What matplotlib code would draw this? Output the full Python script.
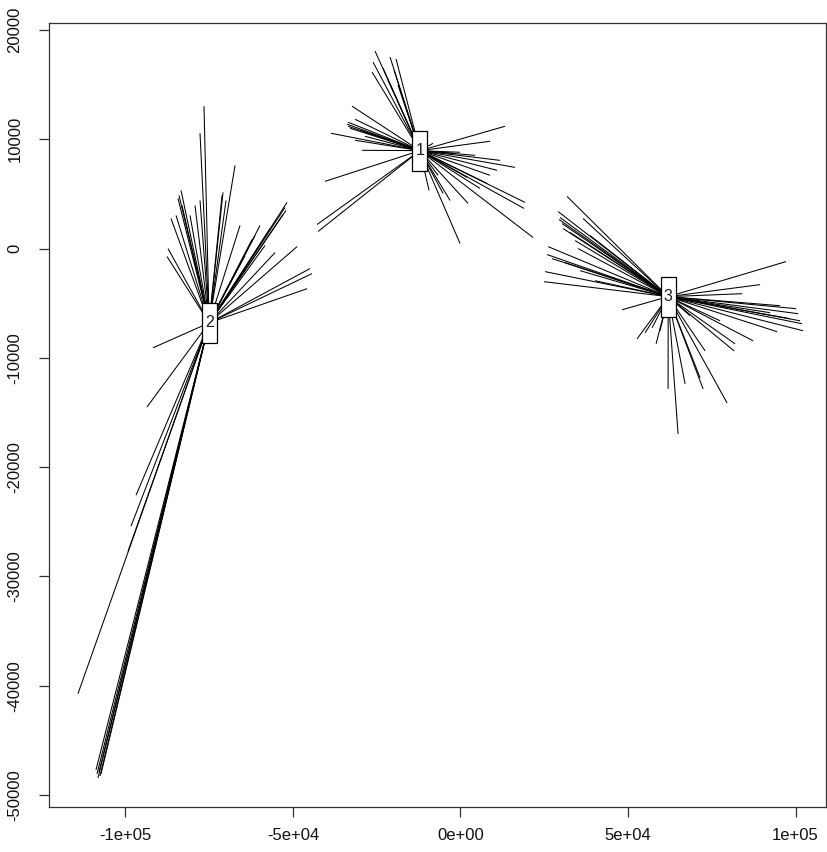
import matplotlib
matplotlib.use("Agg")
import matplotlib.pyplot as plt
from matplotlib.patches import Rectangle

# ---- data -------------------------------------------------------------
cluster_labels = ["1", "2", "3"]
center_x = [-12100, -75000, 62000]
center_y = [8960, -6800, -4400]

c1_x = [-25490, -26090, -26390, -23100, -21010, -19220, -19820, -21610, -18630,
        -32360, -31460, -33550, -33850, -33550, -32950, -29970, -38630, -29370,
        -40420, -42810, -42510, 13310, 8840, 16300, 10930, 19280, 18980, 21670,
        2270, -120, -9370, 5850, 7940, 1970, -120, -2210, -8180, -3100, -5190,
        11820, 4360, 8840, -6690, -31460, -28480]
c1_y = [18070, 17060, 16150, 16510, 17520, 17340, 16330, 15410, 14950,
        13030, 11830, 11560, 11380, 11190, 11010, 10830, 10550, 8990,
        6150, 2200, 1560, 11190, 9820, 7430, 7160, 4220, 3670, 1010,
        4130, 460, 5320, 5500, 5960, 6510, 8810, 8720, 9630, 4400, 5050,
        8070, 8530, 6700, 6700, 9910, 10270]

c2_x = [-76540, -77730, -67280, -70860, -71160, -69970, -83400, -84000, -84300,
        -83100, -86390, -84890, -87280, -87580, -51760, -52360, -52060, -52950,
        -62210, -61310, -55340, -48770, -44890, -44300, -45790, -58330, -56830,
        -59820, -65790, -64300, -80710, -79220, -77730, -91760, -93550, -96830,
        -98330, -99220, -114150, -108470, -108180, -107580, -107880, -107280,
        -108770]
c2_y = [13030, 10550, 7610, 5140, 4860, 4400, 5320, 4860, 4590,
        3940, 2750, 3030, 0, -730, 4220, 3760, 3490, 3120,
        830, 1190, -370, 180, -1830, -2290, -3670, 280, 1830,
        2110, 2110, -640, 3030, 3940, 4400, -9080, -14490, -22570,
        -25410, -27710, -40730, -48070, -48440, -48260, -47890, -48070,
        -47700]

c3_x = [31820, 29130, 29730, 29430, 30330, 30630, 36600, 35100, 26150, 25850,
        27340, 25250, 24950, 48240, 32720, 34210, 38690, 31220, 35700, 40180,
        97190, 89430, 84060, 100170, 100770, 101370, 101970, 102270, 94510,
        87340, 81970, 81670, 79580, 72420, 71520, 67040, 61970, 64950, 58390,
        52720, 77490, 98390, 95400, 92420, 73010, 68540, 59580, 55100, 57190]
c3_y = [4770, 3390, 2840, 2660, 2290, 1830, 2750, 0, 180, -550,
        -920, -2110, -3030, -5600, 1470, 730, 1190, -1280, -2020, -2940,
        -1190, -3300, -4130, -5500, -5960, -6610, -6880, -7520, -7610,
        -8440, -8720, -9360, -14130, -12840, -11830, -12380, -12840, -16970, -8720,
        -8260, -6610, -6420, -5230, -5870, -9360, -6150, -7520, -7710, -7250]

x_ticks = [-100000, -50000, 0, 50000, 100000]
x_tick_labels = ["-1e+05", "-5e+04", "0e+00", "5e+04", "1e+05"]
y_ticks = [20000, 10000, 0, -10000, -20000, -30000, -40000, -50000]
y_tick_labels = ["20000", "10000", "0", "-10000", "-20000", "-30000", "-40000", "-50000"]

# ---- figure -----------------------------------------------------------
plt.rcParams['font.family'] = ['Liberation Sans', 'DejaVu Sans']
W, H = 827, 852
fig = plt.figure(figsize=(W / 100, H / 100), dpi=100)
ax_l, ax_r, ax_t, ax_b = 49, 826, 23, 807
ax = fig.add_axes([ax_l / W, (H - ax_b) / H, (ax_r - ax_l) / W, (ax_b - ax_t) / H])

xlim = (-122800, 109100)
ylim = (-51100, 20640)
ax.set_xlim(*xlim)
ax.set_ylim(*ylim)

clusters = [(c1_x, c1_y), (c2_x, c2_y), (c3_x, c3_y)]
for (xs, ys), cx, cy in zip(clusters, center_x, center_y):
    for x, y in zip(xs, ys):
        ax.plot([cx, x], [cy, y], color='black', lw=0.75, solid_capstyle='butt')

# label boxes (size in pixels converted to data units)
dx_px = (xlim[1] - xlim[0]) / (ax_r - ax_l)
dy_px = (ylim[1] - ylim[0]) / (ax_b - ax_t)
bw, bh = 15 * dx_px, 40 * dy_px
for lab, cx, cy in zip(cluster_labels, center_x, center_y):
    ax.add_patch(Rectangle((cx - bw / 2, cy - bh / 2), bw, bh, facecolor='white',
                           edgecolor='black', lw=0.9, zorder=5))
    ax.text(cx, cy, lab, ha='center', va='center', fontsize=11.5, color='#1a1a2e', zorder=6)

ax.set_xticks(x_ticks)
ax.set_xticklabels(x_tick_labels)
ax.set_yticks(y_ticks)
ax.set_yticklabels(y_tick_labels, rotation=90, va='center')
ax.tick_params(axis='both', length=7, width=0.9, color='#333333', labelsize=12,
               labelcolor='#111111')
ax.tick_params(axis='x', pad=8)
ax.tick_params(axis='y', pad=12)
for s in ax.spines.values():
    s.set_color('#333333')
    s.set_linewidth(0.9)

fig.savefig('out.png', dpi=100, facecolor='white')
